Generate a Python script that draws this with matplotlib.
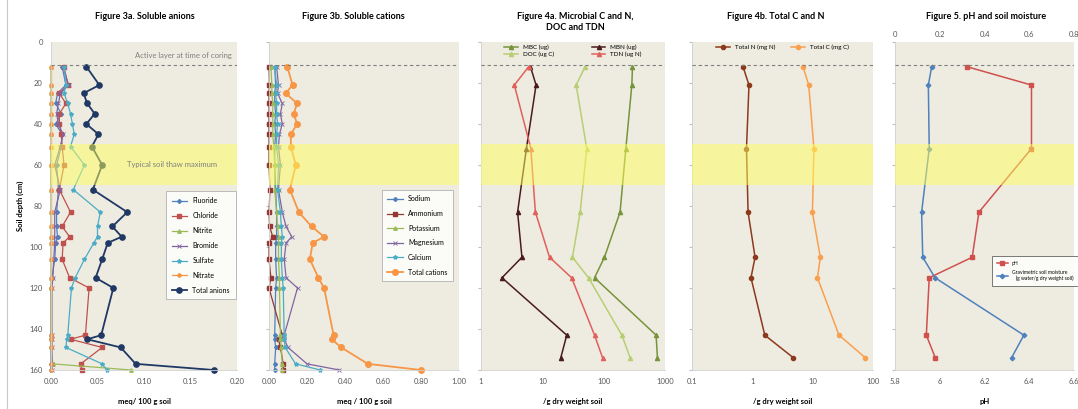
import numpy as np
import matplotlib
matplotlib.use('Agg')
import matplotlib.pyplot as plt
from matplotlib.lines import Line2D

plt.rcParams['font.family'] = ['Lato', 'DejaVu Sans']
plt.rcParams['lines.solid_joinstyle'] = 'round'

# --- soluble ions (Figure 3a / 3b) ---
ion_depth = [12, 21, 25, 30, 35, 40, 45, 51, 60, 72, 83, 90, 95, 98, 106, 115, 120, 143, 145, 149, 157, 160]

fluoride = [0.012, 0.016, 0.007, 0.005, 0.011, 0.005, 0.012, 0.011, 0.006, 0.008, 0.006, 0.006, 0.007, 0.005, 0.004, 0.001, 0.0, 0.0, 0.0, 0.0, 0.0, 0.0]
chloride = [0.014, 0.018, 0.009, 0.016, 0.009, 0.009, 0.011, 0.012, 0.014, 0.009, 0.021, 0.012, 0.020, 0.013, 0.012, 0.020, 0.041, 0.037, 0.021, 0.055, 0.032, 0.033]
nitrite = [0.0, 0.0, 0.0, 0.0, 0.0, 0.0, 0.0, 0.0, 0.0, 0.0, 0.0, 0.0, 0.0, 0.0, 0.0, 0.0, 0.0, 0.0, 0.0, 0.0, 0.002, 0.086]
bromide = [0.013, 0.019, 0.010, 0.008, 0.006, 0.008, 0.013, 0.010, 0.004, 0.010, 0.004, 0.004, 0.004, 0.004, 0.003, 0.002, 0.001, 0.001, 0.001, 0.001, 0.001, 0.001]
sulfate = [0.014, 0.016, 0.014, 0.018, 0.021, 0.023, 0.025, 0.021, 0.036, 0.024, 0.053, 0.050, 0.050, 0.046, 0.036, 0.026, 0.022, 0.018, 0.017, 0.016, 0.055, 0.060]
nitrate = [0.0] * 22
total_anions = [0.038, 0.052, 0.035, 0.039, 0.047, 0.038, 0.051, 0.044, 0.055, 0.045, 0.082, 0.066, 0.076, 0.061, 0.055, 0.048, 0.067, 0.054, 0.039, 0.075, 0.091, 0.175]

sodium = [0.03, 0.035, 0.03, 0.03, 0.035, 0.03, 0.035, 0.03, 0.03, 0.035, 0.04, 0.04, 0.04, 0.035, 0.035, 0.04, 0.035, 0.03, 0.03, 0.035, 0.03, 0.03]
ammonium = [0.0, 0.002, 0.0, 0.0, 0.0, 0.0, 0.0, 0.0, 0.0, 0.005, 0.0, 0.003, 0.02, 0.0, 0.0, 0.01, 0.0, 0.07, 0.05, 0.06, 0.075, 0.075]
potassium = [0.01, 0.015, 0.015, 0.02, 0.02, 0.02, 0.02, 0.025, 0.03, 0.03, 0.04, 0.045, 0.05, 0.05, 0.05, 0.055, 0.055, 0.06, 0.06, 0.065, 0.07, 0.07]
magnesium = [0.04, 0.05, 0.045, 0.07, 0.06, 0.07, 0.055, 0.05, 0.06, 0.05, 0.07, 0.09, 0.12, 0.09, 0.08, 0.09, 0.15, 0.08, 0.08, 0.10, 0.20, 0.37]
calcium = [0.03, 0.04, 0.035, 0.04, 0.04, 0.045, 0.04, 0.04, 0.05, 0.045, 0.06, 0.065, 0.07, 0.065, 0.065, 0.07, 0.075, 0.08, 0.08, 0.085, 0.14, 0.27]
total_cations = [0.096, 0.124, 0.088, 0.148, 0.13, 0.148, 0.115, 0.115, 0.141, 0.11, 0.157, 0.224, 0.29, 0.23, 0.215, 0.26, 0.29, 0.34, 0.33, 0.38, 0.52, 0.80]

# --- microbial / total C and N, pH, moisture (Figures 4a, 4b, 5) ---
core_depth = [12, 21, 52, 83, 105, 115, 143, 154]

mbc = [295, 288, 230, 185, 103, 71, 716, 753]
mbn = [6.4, 7.9, 5.5, 3.95, 4.65, 2.2, 25, 20]
doc = [50, 35.6, 53, 41.4, 31, 56.6, 198, 270]
tdn = [6.0, 3.5, 6.5, 7.7, 13.1, 30, 71, 96]

total_n = [0.70, 0.88, 0.80, 0.85, 1.11, 0.95, 1.61, 4.77]
total_c = [6.9, 8.6, 10.5, 9.9, 13.4, 12.0, 27.3, 74.6]

ph = [6.12, 6.41, 6.41, 6.175, 6.145, 5.953, 5.94, 5.98]
moisture = [0.164, 0.149, 0.153, 0.119, 0.124, 0.179, 0.576, 0.521]

BG = '#EEECE1'
TICK_COLOR = '#595959'
ACTIVE_LAYER = 11
THAW = (50, 70)

W, H = 1078, 409
fig = plt.figure(figsize=(W / 100, H / 100), dpi=100)
fig.patch.set_facecolor('white')


def add_panel(x0, x1):
    # panel position in pixels of the original picture
    return fig.add_axes([x0 / W, 1 - 370 / H, (x1 - x0) / W, 328 / H])


def style_panel(ax, xlim, xticks, xlabels, xlabel, log=False, ylabels=False):
    ax.set_facecolor(BG)
    if log:
        ax.set_xscale('log')
        ax.minorticks_off()
    ax.set_xlim(*xlim)
    ax.set_ylim(160, 0)
    ax.set_xticks(xticks)
    ax.set_xticklabels(xlabels)
    ax.set_yticks(range(0, 161, 20))
    if ylabels:
        ax.tick_params(axis='y', length=0, pad=6, labelsize=5.5, labelcolor=TICK_COLOR)
    else:
        ax.tick_params(axis='y', length=2, color='#BFBFBF', labelleft=False)
    ax.tick_params(axis='x', length=0, pad=6, labelsize=5.5, labelcolor=TICK_COLOR)
    for side in ['top', 'right']:
        ax.spines[side].set_visible(False)
    for side in ['left', 'bottom']:
        ax.spines[side].set_color('#D0D0D0')
        ax.spines[side].set_linewidth(0.6)
    ax.set_xlabel(xlabel, fontsize=5.5, fontweight='bold', labelpad=9)


def add_layers(ax, z=4):
    # thaw band drawn over the lines, as in the original
    ax.axhspan(THAW[0], THAW[1], color='#FFFF5A', alpha=0.5, lw=0, zorder=z)
    ax.axhline(ACTIVE_LAYER, color='#808080', lw=0.8, ls=(0, (3, 2.5)), zorder=z)


def legend_box(ax, **kw):
    leg = ax.legend(fontsize=5, handlelength=2.2, borderpad=0.8, fancybox=False, **kw)
    leg.get_frame().set_edgecolor('#A0A0A0')
    leg.get_frame().set_linewidth(0.6)
    leg.set_zorder(10)
    return leg


# ---------- Figure 3a ----------
ax1 = add_panel(51, 237)
style_panel(ax1, (0, 0.2), [0, 0.05, 0.10, 0.15, 0.20],
            ['0.00', '0.05', '0.10', '0.15', '0.20'], 'meq/ 100 g soil', ylabels=True)
ax1.plot(fluoride, ion_depth, color='#4F81BD', marker='D', ms=2, lw=0.9, clip_on=False, label='Fluoride')
ax1.plot(chloride, ion_depth, color='#C0504D', marker='s', ms=2.3, lw=0.9, clip_on=False, label='Chloride')
ax1.plot(nitrite, ion_depth, color='#9BBB59', marker='^', ms=2.5, lw=0.9, clip_on=False, label='Nitrite')
ax1.plot(bromide, ion_depth, color='#8064A2', marker='x', ms=2.5, mew=0.6, lw=0.9, clip_on=False, label='Bromide')
ax1.plot(sulfate, ion_depth, color='#4BACC6', marker='*', ms=3, lw=0.9, clip_on=False, label='Sulfate')
ax1.plot(nitrate, ion_depth, color='#F79646', marker='o', ms=2.3, lw=0.9, clip_on=False, label='Nitrate')
ax1.plot(total_anions, ion_depth, color='#1F3864', marker='o', ms=3.8, lw=1.3, clip_on=False, label='Total anions')
add_layers(ax1)
ax1.text(0.195, 6.5, 'Active layer at time of coring', ha='right', va='center',
         fontsize=5.5, color='#7F7F7F', zorder=6)
ax1.text(0.130, 60, 'Typical soil thaw maximum', ha='center', va='center',
         fontsize=5.5, color='#7F7F7F', zorder=6)
ax1.set_ylabel('Soil depth (cm)', fontsize=5.5, fontweight='bold', labelpad=4)
legend_box(ax1, loc='upper left', bbox_to_anchor=(0.60, 0.555), labelspacing=1.15)

# ---------- Figure 3b ----------
ax2 = add_panel(269, 459)
style_panel(ax2, (0, 1.0), [0, 0.2, 0.4, 0.6, 0.8, 1.0],
            ['0.00', '0.20', '0.40', '0.60', '0.80', '1.00'], 'meq / 100 g soil')
ax2.plot(sodium, ion_depth, color='#4F81BD', marker='D', ms=2, lw=0.9, clip_on=False, label='Sodium')
ax2.plot(ammonium, ion_depth, color='#953735', marker='s', ms=2.3, lw=0.9, clip_on=False, label='Ammonium')
ax2.plot(potassium, ion_depth, color='#9BBB59', marker='^', ms=2.5, lw=0.9, clip_on=False, label='Potassium')
ax2.plot(magnesium, ion_depth, color='#8064A2', marker='x', ms=2.5, mew=0.6, lw=0.9, clip_on=False, label='Magnesium')
ax2.plot(calcium, ion_depth, color='#4BACC6', marker='*', ms=3, lw=0.9, clip_on=False, label='Calcium')
ax2.plot(total_cations, ion_depth, color='#F79646', marker='o', ms=4, lw=1.3, clip_on=False, label='Total cations')
add_layers(ax2)
legend_box(ax2, loc='upper left', bbox_to_anchor=(0.575, 0.56), labelspacing=1.1)

# ---------- Figure 4a ----------
ax3 = add_panel(481, 665)
style_panel(ax3, (1, 1000), [1, 10, 100, 1000], ['1', '10', '100', '1000'],
            '/g dry weight soil', log=True)
l_mbc, = ax3.plot(mbc, core_depth, color='#77933C', marker='^', ms=3, lw=1.1, label='MBC (ug)')
l_mbn, = ax3.plot(mbn, core_depth, color='#4A1C1C', marker='^', ms=3, lw=1.1, label='MBN (ug)')
l_doc, = ax3.plot(doc, core_depth, color='#B8CE72', marker='^', ms=3, lw=1.1, label='DOC (ug C)')
l_tdn, = ax3.plot(tdn, core_depth, color='#E0605C', marker='^', ms=3, lw=1.1, label='TDN (ug N)')
add_layers(ax3)
leg3 = ax3.legend(handles=[l_mbc, l_doc, l_mbn, l_tdn], ncol=2, loc='upper center',
                  bbox_to_anchor=(0.5, 1.01), frameon=False, fontsize=4.5,
                  handlelength=2.2, columnspacing=6, labelspacing=0.3)
leg3.set_zorder(10)

# ---------- Figure 4b ----------
ax4 = add_panel(692, 873)
style_panel(ax4, (0.1, 100), [0.1, 1, 10, 100], ['0.1', '1', '10', '100'],
            '/g dry weight soil', log=True)
ax4.plot(total_n, core_depth, color='#8C3A1C', marker='o', ms=3, lw=1.1, label='Total N (mg N)')
ax4.plot(total_c, core_depth, color='#F9A04E', marker='o', ms=3, lw=1.1, label='Total C (mg C)')
add_layers(ax4)
leg4 = ax4.legend(ncol=2, loc='upper center', bbox_to_anchor=(0.5, 1.01), frameon=False,
                  fontsize=4.5, handlelength=2.2, columnspacing=2.5)
leg4.set_zorder(10)

# ---------- Figure 5 ----------
ax5 = add_panel(895, 1074)
style_panel(ax5, (5.8, 6.6), [5.8, 6.0, 6.2, 6.4, 6.6],
            ['5.8', '6', '6.2', '6.4', '6.6'], 'pH')
ax5t = ax5.twiny()
ax5t.set_xlim(0, 0.8)
ax5t.set_xticks([0, 0.2, 0.4, 0.6, 0.8])
ax5t.set_xticklabels(['0', '0.2', '0.4', '0.6', '0.8'])
ax5t.tick_params(axis='x', length=0, pad=3, labelsize=5.5, labelcolor=TICK_COLOR)
for s in ax5t.spines.values():
    s.set_visible(False)
l_ph, = ax5.plot(ph, core_depth, color='#D0504D', marker='s', ms=2.8, lw=1.1, label='pH')
l_moist, = ax5t.plot(moisture, core_depth, color='#4F81BD', marker='D', ms=2.3, lw=1.1,
                     label='Gravimetric soil moisture\n   (g water/g dry weight soil)')
add_layers(ax5t)
leg5 = ax5t.legend(handles=[l_ph, l_moist], loc='upper left', bbox_to_anchor=(0.53, 0.355),
                   fontsize=3.6, handlelength=2.2, borderpad=0.9, labelspacing=0.9,
                   fancybox=False)
leg5.get_frame().set_edgecolor('#404040')
leg5.get_frame().set_linewidth(0.6)
leg5.set_zorder(10)

# ---------- titles ----------
titles = ['Figure 3a. Soluble anions', 'Figure 3b. Soluble cations',
          'Figure 4a. Microbial C and N,\nDOC and TDN', 'Figure 4b. Total C and N',
          'Figure 5. pH and soil moisture']
title_x = [145, 353, 575, 776, 986]
for t, x in zip(titles, title_x):
    fig.text(x / W, 1 - 12 / H, t, ha='center', va='top', fontsize=6.5,
             fontweight='bold', linespacing=1.3)

# thin page border on the far left
fig.add_artist(Line2D([6.5 / W, 6.5 / W], [0, 1], color='#C8C8C8', lw=0.8))

fig.savefig('out.png', dpi=100)
